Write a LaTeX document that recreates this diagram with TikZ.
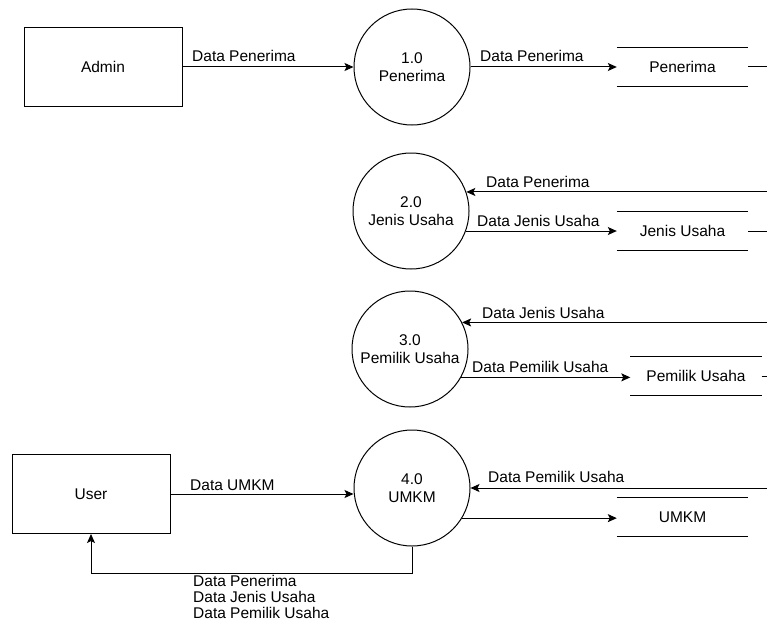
\documentclass[tikz,border=0pt]{standalone}
\usepackage{fontspec}
\setmainfont{Liberation Sans}
\usetikzlibrary{arrows.meta}
\begin{document}
\begin{tikzpicture}[x=1pt,y=-1pt,
 every node/.style={font=\fontsize{15.5}{18.5}\selectfont},
 ent/.style={draw, line width=1pt, minimum width=158pt, minimum height=79pt, inner sep=0},
 proc/.style={draw, circle, line width=1pt, minimum size=116pt, inner sep=0, align=center},
 store/.style={minimum width=131pt, minimum height=39pt, inner sep=0},
 flow/.style={line width=1pt, -{Stealth[length=9pt,width=8pt,inset=2pt]}},
 wire/.style={line width=1pt},
 lbl/.style={anchor=west, inner sep=0},
]
\useasboundingbox (0,0) rectangle (767,623);

% entities
\node[ent] (admin) at (103,67) {Admin};
\node[ent] (user) at (91,494) {User};

% processes
\node[proc] (p1) at (412,67) {1.0\\Penerima};
\node[proc] (p2) at (411,211) {2.0\\Jenis Usaha};
\node[proc] (p3) at (410,349) {3.0\\Pemilik Usaha};
\node[proc] (p4) at (412,488) {4.0\\UMKM};

% data stores
\node[store] (s1) at (682.5,67) {Penerima};
\node[store] (s2) at (682.5,231) {Jenis Usaha};
\node[store] (s3) at (696,376) {Pemilik Usaha};
\node[store] (s4) at (682.5,517) {UMKM};
\foreach \s in {s1,s2,s3,s4}{
  \draw[wire] (\s.north west) -- (\s.north east);
  \draw[wire] (\s.south west) -- (\s.south east);
}

% free ends at the right edge
\coordinate (e1) at (s1.east -| 767,0);
\coordinate (e2) at (s2.east -| 767,0);
\coordinate (e3) at (s3.east -| 767,0);
\coordinate (r2) at (p2.19 -| 767,0);
\coordinate (r3) at (p3.27 -| 767,0);
\coordinate (r4) at (p4.east -| 767,0);
\coordinate (bend) at (p4.south |- 0,573);

% connectors
\draw[flow] (admin.east) -- (p1.west);
\draw[flow] (p1.east) -- (s1.west);
\draw[wire] (s1.east) -- (e1);

\draw[flow] (r2) -- (p2.19);
\draw[flow] (p2.-20) -- (p2.-20 -| s2.west);
\draw[wire] (s2.east) -- (e2);

\draw[flow] (r3) -- (p3.27);
\draw[flow] (p3.-29) -- (p3.-29 -| s3.west);
\draw[wire] (s3.east) -- (e3);

\draw[flow] (r4) -- (p4.east);
\draw[flow] (p4.-31) -- (p4.-31 -| s4.west);

\draw[flow] (user.east) -- (user.east -| p4.west);
\draw[flow] (p4.south) -- (bend) -| (user.south);

% labels
\node[lbl] at (192,56) {Data Penerima};
\node[lbl] at (480,56) {Data Penerima};
\node[lbl] at (486,182) {Data Penerima};
\node[lbl] at (477,221) {Data Jenis Usaha};
\node[lbl] at (482,313) {Data Jenis Usaha};
\node[lbl] at (472,367) {Data Pemilik Usaha};
\node[lbl] at (488,477) {Data Pemilik Usaha};
\node[lbl] at (190,485) {Data UMKM};
\node[anchor=north west, inner sep=0, align=left, font=\fontsize{15.5}{16}\selectfont] at (193,575) {Data Penerima\\Data Jenis Usaha\\Data Pemilik Usaha};
\end{tikzpicture}
\end{document}
